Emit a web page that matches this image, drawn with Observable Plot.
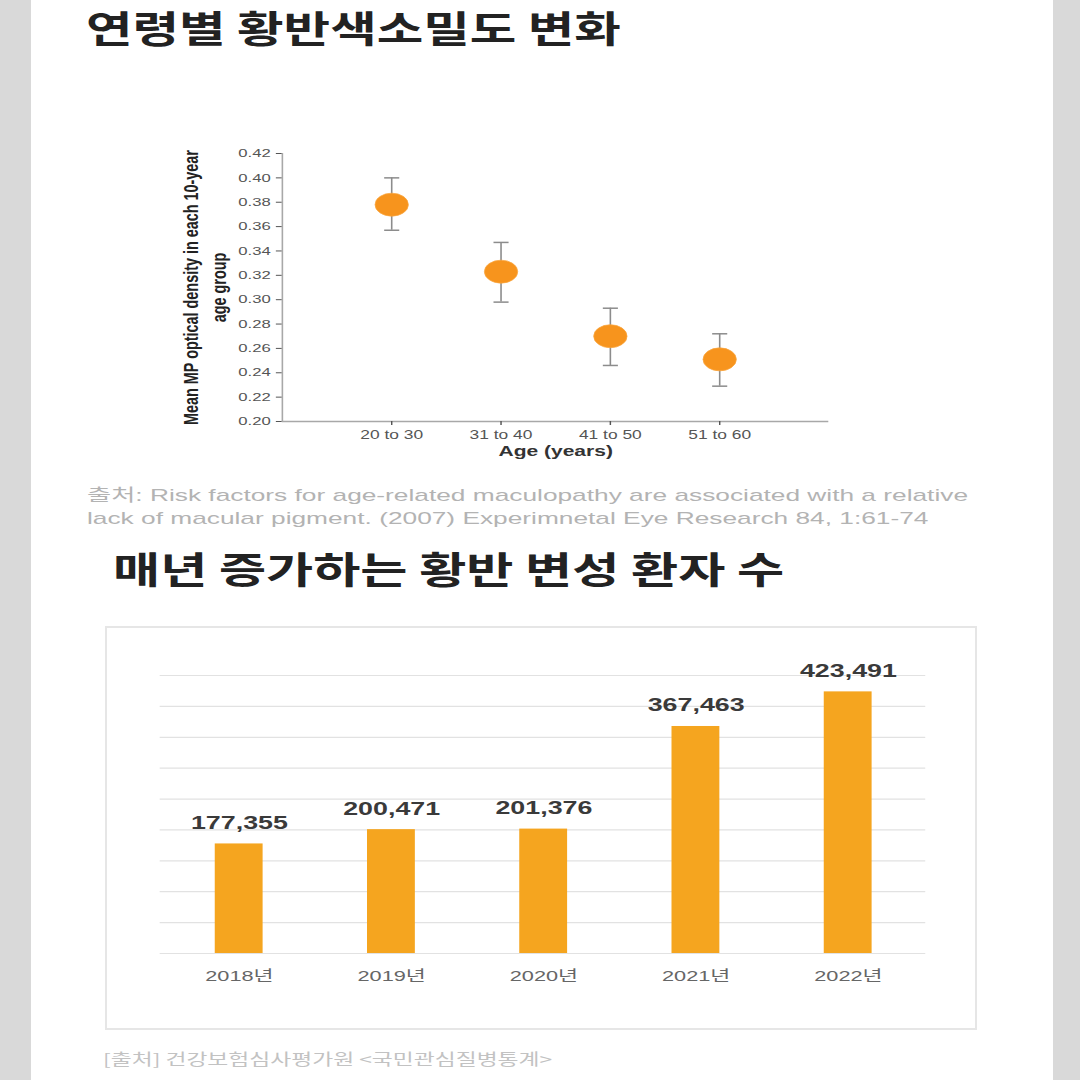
<!DOCTYPE html>
<html>
<head>
<meta charset="utf-8">
<script src="https://cdn.jsdelivr.net/npm/d3@7"></script>
<script src="https://cdn.jsdelivr.net/npm/@observablehq/plot@0.6"></script>
<style>
  html, body { margin: 0; padding: 0; background: #d9d9d9; }
  #page { position: relative; width: 1080px; height: 1080px; overflow: hidden; background: #d9d9d9; }
  #sheet { position: absolute; left: 31px; top: 0; width: 1022px; height: 1080px; background: #ffffff; }
  .abs { position: absolute; white-space: nowrap; transform-origin: 0 0; }
  .title { font-family: "Noto Sans CJK KR", sans-serif; font-weight: 700; font-size: 37px; line-height: 37px; color: #222; }
  .cap1 { font-family: "Liberation Sans", "Noto Sans CJK KR", sans-serif; font-size: 17px; line-height: 23px; color: #b3b3b3; transform: scaleX(1.546); }
  .cap2 { font-family: "Noto Sans CJK KR", sans-serif; font-size: 15.5px; line-height: 20px; color: #c2c2c2; transform: scaleX(1.47); }
  .stretch { transform: scaleX(1.45); }
  #box { position: absolute; left: 105px; top: 626px; width: 872px; height: 404px; border: 2px solid #e6e6e6; box-sizing: border-box; }
</style>
</head>
<body>
<div id="page">
  <div id="sheet"></div>
  <div class="abs title" style="left:86px; top:9px; transform:scaleX(1.367);">연령별 황반색소밀도 변화</div>
  <div id="chart1" class="abs stretch" style="left:170px; top:140px;"></div>
  <div class="abs cap1" style="left:87px; top:484px;">출처: Risk factors for age-related maculopathy are associated with a relative<br>lack of macular pigment. (2007) Experimnetal Eye Research 84, 1:61-74</div>
  <div class="abs title" style="left:113px; top:550px; transform:scaleX(1.385);">매년 증가하는 황반 변성 환자 수</div>
  <div id="box"></div>
  <div id="chart2" class="abs stretch" style="left:106px; top:640px;"></div>
  <div class="abs cap2" style="left:103px; top:1048px;">[출처] 건강보험심사평가원 &lt;국민관심질병통계&gt;</div>
</div>
<script>
// ---- Chart 1: mean MP optical density by age group ----
const ageGroups = ["20 to 30", "31 to 40", "41 to 50", "51 to 60"];
const mpMean = [0.378, 0.323, 0.270, 0.251];
const mpLow  = [0.357, 0.298, 0.246, 0.229];
const mpHigh = [0.400, 0.347, 0.293, 0.272];
const mpTicks = [0.20, 0.22, 0.24, 0.26, 0.28, 0.30, 0.32, 0.34, 0.36, 0.38, 0.40, 0.42];

// ---- Chart 2: macular degeneration patients per year ----
const years = ["2018년", "2019년", "2020년", "2021년", "2022년"];
const patients = [177355, 200471, 201376, 367463, 423491];
const patientTicks = [0, 50000, 100000, 150000, 200000, 250000, 300000, 350000, 400000, 450000];

const scatterData = ageGroups.map((g, i) => ({group: g, pos: i + 1, mean: mpMean[i], lo: mpLow[i], hi: mpHigh[i]}));
const capSymbol = {
  draw(ctx, size) {
    const r = Math.sqrt(size / Math.PI);
    ctx.moveTo(-r, 0);
    ctx.lineTo(r, 0);
  }
};

const chart1 = Plot.plot({
  width: 480,
  height: 330,
  marginLeft: 77,
  marginRight: 26,
  marginTop: 13,
  marginBottom: 49,
  style: {fontFamily: "'Liberation Sans', Arial, sans-serif", background: "transparent", overflow: "visible"},
  x: {type: "linear", domain: [0, ageGroups.length + 1]},
  y: {domain: [mpTicks[0], mpTicks[mpTicks.length - 1]]},
  marks: [
    Plot.ruleY([mpTicks[0]], {stroke: "#a8a8a8", strokeWidth: 1.5}),
    Plot.ruleX([0], {stroke: "#a8a8a8", strokeWidth: 1.1}),
    Plot.axisY({ticks: mpTicks, tickFormat: d3.format(".2f"), tickSize: 4, tickPadding: 4, fontSize: 11.5, color: "#555", label: null}),
    Plot.axisX({ticks: scatterData.map(d => d.pos), tickFormat: i => ageGroups[i - 1], tickSize: 4, tickPadding: 5, fontSize: 12, color: "#555", label: null}),
    Plot.ruleX(scatterData, {x: "pos", y1: "lo", y2: "hi", stroke: "#8c8c8c", strokeWidth: 1.1}),
    Plot.dot(scatterData, {x: "pos", y: "lo", symbol: capSymbol, r: 5.2, fill: "none", stroke: "#8c8c8c", strokeWidth: 1.5}),
    Plot.dot(scatterData, {x: "pos", y: "hi", symbol: capSymbol, r: 5.2, fill: "none", stroke: "#8c8c8c", strokeWidth: 1.5}),
    Plot.dot(scatterData, {x: "pos", y: "mean", r: 11.5, fill: "#f7941d", stroke: "#f9a640", strokeWidth: 0.6}),
    Plot.text(["Age (years)"], {frameAnchor: "bottom", dy: 34, fontWeight: "bold", fontSize: 14.5, fill: "#333"}),
    Plot.text(["Mean MP optical density in each 10-year\nage group"], {frameAnchor: "left", textAnchor: "middle", lineAnchor: "middle", rotate: -90, dx: -54.6, fontWeight: "bold", fontSize: 14.4, lineHeight: 1.34, fill: "#222"})
  ]
});
document.getElementById("chart1").appendChild(chart1);

const barData = years.map((y, i) => ({year: y, value: patients[i]}));
const chart2 = Plot.plot({
  width: 600,
  height: 355,
  marginLeft: 37,
  marginRight: 35,
  marginTop: 35,
  marginBottom: 42,
  style: {fontFamily: "'Liberation Sans', 'Noto Sans CJK KR', Arial, sans-serif", background: "transparent", overflow: "visible"},
  x: {domain: years, paddingInner: 0.686, paddingOuter: 0.343},
  y: {domain: [patientTicks[0], patientTicks[patientTicks.length - 1]], axis: null},
  marks: [
    Plot.gridY(patientTicks, {stroke: "#e2e2e2", strokeOpacity: 1, strokeWidth: 1.2}),
    Plot.barY(barData, {x: "year", y: "value", fill: "#f5a51f"}),
    Plot.text(barData, {x: "year", y: "value", text: d => d3.format(",")(d.value), dy: -21, fontSize: 18.5, fontWeight: "bold", fill: "#3a3a3a", style: {letterSpacing: "0.4px"}}),
    Plot.axisX({tickSize: 0, tickPadding: 17, fontSize: 15, color: "#666", label: null})
  ]
});
document.getElementById("chart2").appendChild(chart2);
</script>
</body>
</html>
